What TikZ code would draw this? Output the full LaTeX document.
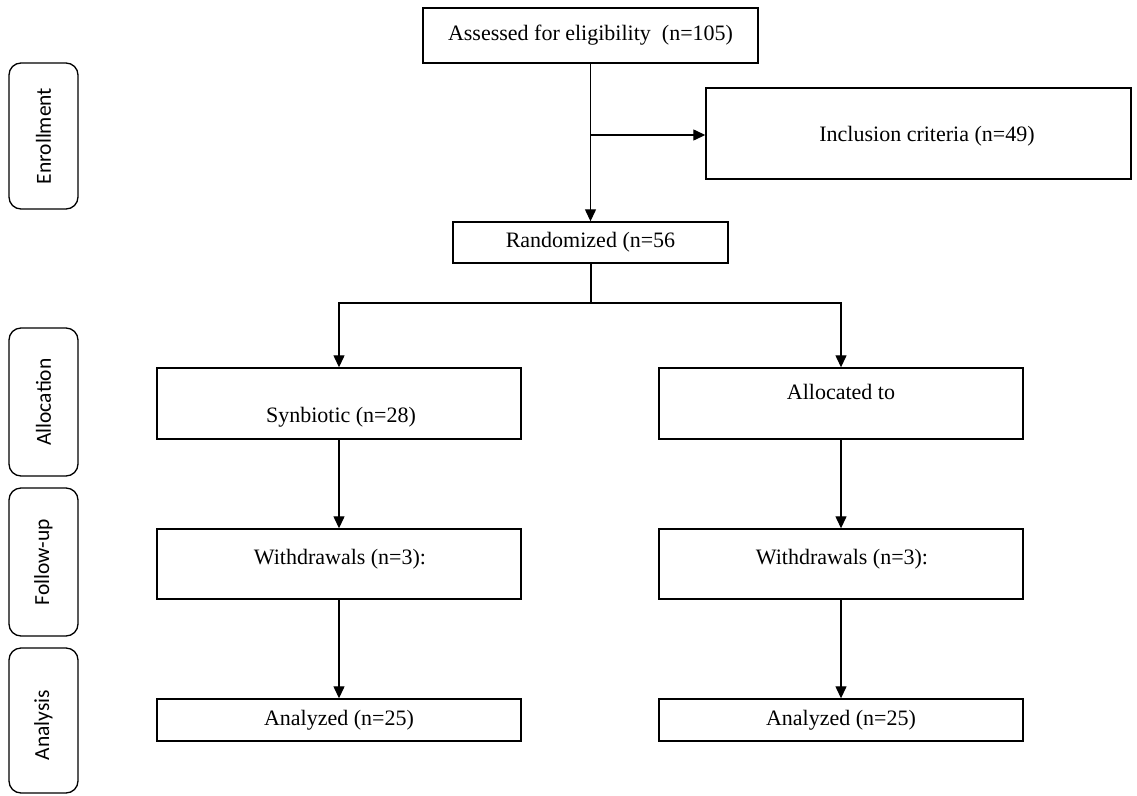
\documentclass[tikz,border=0pt]{standalone}
\usepackage{fontspec}
\setmainfont{Liberation Serif}
\newfontfamily\sidefont{Carlito}
\usetikzlibrary{arrows.meta}
\begin{document}
\begin{tikzpicture}[x=1pt,y=-1pt,
  box/.style={draw, line width=1.4pt, rectangle, inner sep=0pt, font=\fontsize{22}{26}\selectfont},
  sidebox/.style={draw, line width=1.3pt, rectangle, rounded corners=12pt, inner sep=0pt, minimum width=69pt},
  sidetext/.style={rotate=90, font=\sidefont\fontsize{21.5}{25}\selectfont},
  txt/.style={inner sep=0pt, font=\fontsize{22}{26}\selectfont},
  arr/.style={line width=1.3pt, -{Triangle[length=12pt,width=11pt]}},
  ln/.style={line width=1.3pt}]
\useasboundingbox (0,0) rectangle (1137,795);
% side labels
\node[sidebox, minimum height=146pt] (senr) at (43.5,136) {};
\node[sidetext] (tenr) at (senr.center) {Enrollment};
\node[sidebox, minimum height=148pt] (salloc) at (43.5,402) {};
\node[sidetext] (talloc) at (salloc.center) {Allocation};
\node[sidebox, minimum height=148pt] (sfol) at (43.5,562) {};
\node[sidetext] (tfol) at (sfol.center) {Follow-up};
\node[sidebox, minimum height=145pt] (sana) at (43.5,720.5) {};
\node[sidetext] (tana) at (43.5,725) {Analysis};
% main boxes
\node[box, minimum width=335pt, minimum height=55pt] (assess) at (590.5,35.5) {Assessed for eligibility\ \ (n=105)};
\node[box, minimum width=425pt, minimum height=91pt] (incl) at (918.5,133.5) {};
\node[txt] (tincl) at (927,136) {Inclusion criteria (n=49)};
\node[box, minimum width=275pt, minimum height=41pt] (rand) at (590.5,242.5) {Randomized (n=56};
\node[box, minimum width=364pt, minimum height=71pt] (syn) at (339,403.5) {};
\node[txt] (tsyn) at (341,417) {Synbiotic (n=28)};
\node[box, minimum width=364pt, minimum height=71pt] (alloc) at (841,403.5) {};
\node[txt] (talloc2) at (841,392) {Allocated to};
\node[box, minimum width=364pt, minimum height=70pt] (wl) at (339,564) {};
\node[txt] (twl) at (340,559) {Withdrawals (n=3):};
\node[box, minimum width=364pt, minimum height=70pt] (wr) at (841,564) {};
\node[txt] (twr) at (842,559) {Withdrawals (n=3):};
\node[box, minimum width=364pt, minimum height=42pt] (al) at (339,720) {Analyzed (n=25)};
\node[box, minimum width=364pt, minimum height=42pt] (ar) at (841,720) {Analyzed (n=25)};
% connectors
\draw[arr] (assess.south) -- (rand.north);
\coordinate (b1) at (590.5,135);
\draw[arr] (b1) -- (incl.west |- b1);
\coordinate (split) at (591,303);
\draw[ln] (rand.south -| split) -- (split);
\draw[arr] (split) -| (syn.north);
\draw[arr] (split) -| (alloc.north);
\draw[arr] (syn.south) -- (wl.north);
\draw[arr] (alloc.south) -- (wr.north);
\draw[arr] (wl.south) -- (al.north);
\draw[arr] (wr.south) -- (ar.north);
\end{tikzpicture}
\end{document}
